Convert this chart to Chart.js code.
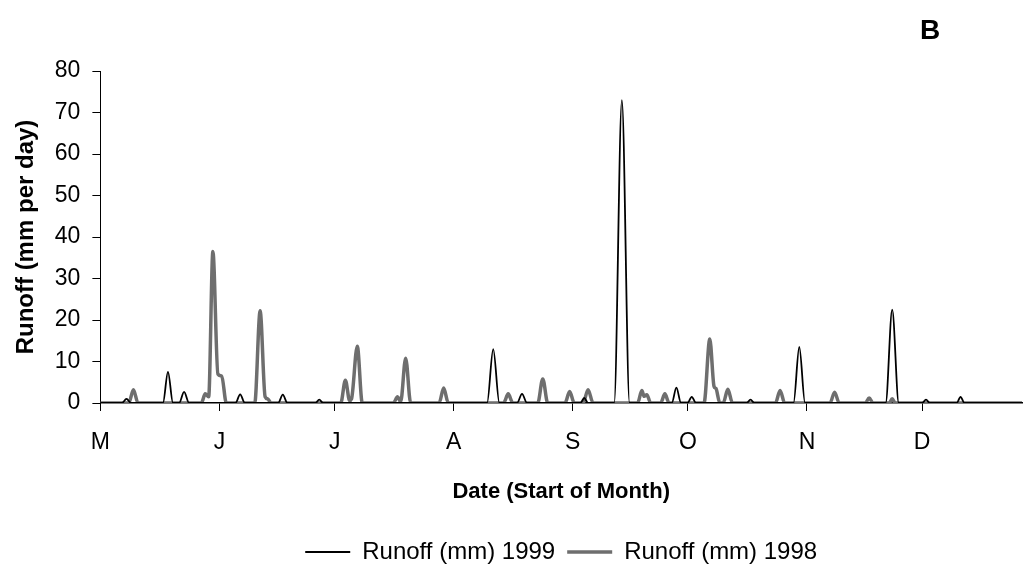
<!DOCTYPE html>
<html>
<head>
<meta charset="utf-8">
<script src="https://cdn.jsdelivr.net/npm/chart.js@4/dist/chart.umd.min.js"></script>
<style>
  html, body { margin: 0; padding: 0; background: #fff; }
  #wrap { width: 1023px; height: 576px; position: relative; }
</style>
</head>
<body>
<div id="wrap"><canvas id="c"></canvas></div>
<script>
// Days counted from 1 May (day 0)
const monthDays = [0, 31, 61, 92, 123, 153, 184, 214];
const monthLabels = ['M', 'J', 'J', 'A', 'S', 'O', 'N', 'D'];

const days1999 = [0, 5.6, 6.8, 8.0, 16.3, 17.6, 18.9, 20.5, 21.8, 23.1, 35.2, 36.4, 37.6, 46.3, 47.5, 48.7,
  56.0, 57.0, 58.0, 100.7, 102.3, 103.9, 108.5, 109.8, 111.1, 125.0, 126.0, 127.0, 133.8, 135.8, 137.8,
  148.8, 150.0, 151.2, 152.9, 154.0, 155.1, 168.3, 169.3, 170.3, 180.5, 182.0, 183.5, 204.5, 206.2, 207.9,
  214.0, 215.0, 216.0, 223.0, 224.0, 225.0, 240];
const runoff1999 = [0, 0, 1.0, 0, 0, 7.5, 0, 0, 2.7, 0, 0, 2.1, 0, 0, 2.0, 0,
  0, 0.8, 0, 0, 13, 0, 0, 2.2, 0, 0, 1.2, 0, 0, 73, 0,
  0, 3.7, 0, 0, 1.5, 0, 0, 0.8, 0, 0, 13.5, 0, 0, 22.5, 0,
  0, 0.8, 0, 0, 1.5, 0, 0];

const days1998 = [0, 7.4, 8.6, 9.8, 26.3, 27.3, 28.2, 29.3, 30.6, 31.6, 32.8, 40.2, 41.6, 42.9, 43.6, 44.4,
  62.6, 63.8, 64.9, 65.4, 66.9, 68.2, 76.3, 77.4, 78.2, 79.5, 80.8, 88.2, 89.4, 90.6, 105.0, 106.2, 107.4,
  113.9, 115.2, 116.5, 121.0, 122.2, 123.4, 125.7, 127.0, 128.3, 139.9, 141.0, 141.6, 142.3, 143.3,
  145.9, 147.0, 148.1, 157.2, 158.7, 159.8, 160.3, 161.3, 162.2, 163.4, 164.6, 175.8, 177.0, 178.2,
  190.0, 191.2, 192.4, 199.2, 200.2, 201.2, 205.4, 206.2, 207.0, 240];
const runoff1998 = [0, 0, 3.2, 0, 0, 2.2, 1.5, 36.5, 7, 6.5, 0, 0, 22.2, 1.5, 1, 0,
  0, 5.5, 0.6, 1, 13.7, 0, 0, 1.5, 0.3, 10.8, 0, 0, 3.6, 0, 0, 2.2, 0,
  0, 5.8, 0, 0, 2.8, 0, 0, 3.2, 0, 0, 3.0, 1.6, 2, 0,
  0, 2.2, 0, 0, 15.4, 4, 3.5, 0, 0, 3.3, 0, 0, 3.0, 0,
  0, 2.6, 0, 0, 1.2, 0, 0, 1, 0, 0];

const yTicks = [0, 10, 20, 30, 40, 50, 60, 70, 80];
const seriesNames = ['Runoff (mm) 1999', 'Runoff (mm) 1998'];
const panelLabel = 'B';
const xTitle = 'Date (Start of Month)';
const yTitle = 'Runoff (mm per day)';

const toPoints = (xs, ys) => xs.map((x, i) => ({ x: x, y: ys[i] }));
const FONT = '"Liberation Sans", Arial, sans-serif';

const panelPlugin = {
  id: 'panelLabel',
  afterDraw(chart) {
    const ctx = chart.ctx;
    ctx.save();
    ctx.font = 'bold 28px ' + FONT;
    ctx.fillStyle = '#000';
    ctx.textAlign = 'center';
    ctx.textBaseline = 'middle';
    ctx.fillText(panelLabel, 930, 31);
    ctx.restore();
  }
};

new Chart(document.getElementById('c'), {
  type: 'line',
  data: {
    datasets: [
      {
        label: seriesNames[0],
        data: toPoints(days1999, runoff1999),
        borderColor: '#000',
        borderWidth: 1.8,
        pointRadius: 0,
        cubicInterpolationMode: 'monotone',
        fill: false
      },
      {
        label: seriesNames[1],
        data: toPoints(days1998, runoff1998),
        borderColor: '#6e6e6e',
        borderWidth: 3.5,
        pointRadius: 0,
        cubicInterpolationMode: 'monotone',
        fill: false
      }
    ]
  },
  options: {
    responsive: true,
    maintainAspectRatio: false,
    animation: false,
    layout: { padding: { top: 71, left: 10, right: 1, bottom: 2 } },
    plugins: {
      legend: {
        position: 'bottom',
        fullSize: false,
        labels: {
          usePointStyle: true,
          pointStyle: 'line',
          pointStyleWidth: 45,
          color: '#000',
          font: { family: FONT, size: 24 },
          padding: 12
        }
      },
      tooltip: { enabled: false }
    },
    scales: {
      x: {
        type: 'linear',
        min: 0,
        max: 240,
        afterBuildTicks(scale) {
          scale.ticks = monthDays.map(v => ({ value: v }));
        },
        ticks: {
          autoSkip: false,
          maxRotation: 0,
          color: '#000',
          padding: 18,
          font: { family: FONT, size: 23 },
          callback: (value, index) => monthLabels[index]
        },
        grid: { drawOnChartArea: false, drawTicks: true, tickLength: 8, color: '#000', lineWidth: 1 },
        border: { color: '#000', width: 1.5 },
        title: {
          display: true,
          text: xTitle,
          color: '#000',
          font: { family: FONT, size: 22, weight: 'bold' },
          padding: { top: 4, bottom: 23 }
        }
      },
      y: {
        min: 0,
        max: 80,
        afterBuildTicks(scale) {
          scale.ticks = yTicks.map(v => ({ value: v }));
        },
        ticks: {
          color: '#000',
          padding: 12,
          font: { family: FONT, size: 23 }
        },
        grid: { drawOnChartArea: false, drawTicks: true, tickLength: 8, color: '#000', lineWidth: 1 },
        border: { color: '#000', width: 1 },
        title: {
          display: true,
          text: yTitle,
          color: '#000',
          font: { family: FONT, size: 24, weight: 'bold' },
          padding: { top: 2, bottom: 2 }
        }
      }
    }
  },
  plugins: [panelPlugin]
});
</script>
</body>
</html>
